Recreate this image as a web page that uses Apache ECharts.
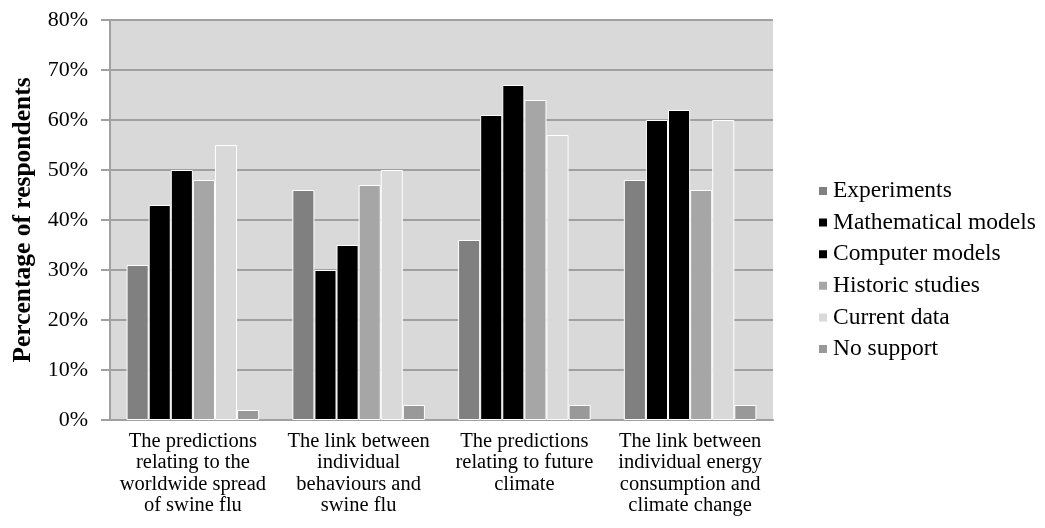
<!DOCTYPE html>
<html>
<head>
<meta charset="utf-8">
<script src="https://cdn.jsdelivr.net/npm/echarts@6/dist/echarts.min.js"></script>
<style>
  html, body { margin: 0; padding: 0; background: #ffffff; }
  #chart { width: 1045px; height: 528px; }
</style>
</head>
<body>
<div id="chart"></div>
<script>
// Survey topics shown along the x axis
const categories = [
  'The predictions\nrelating to the\nworldwide spread\nof swine flu',
  'The link between\nindividual\nbehaviours and\nswine flu',
  'The predictions\nrelating to future\nclimate',
  'The link between\nindividual energy\nconsumption and\nclimate change'
];

// Share of respondents (%) citing each kind of evidence, per topic
const experiments    = [31, 46, 36, 48];
const mathModels     = [43, 30, 61, 60];
const computerModels = [50, 35, 67, 62];
const historic       = [48, 47, 64, 46];
const currentData    = [55, 50, 57, 60];
const noSupport      = [2, 3, 3, 3];

const yTicks = [0, 10, 20, 30, 40, 50, 60, 70, 80];

const seriesDefs = [
  { name: 'Experiments', data: experiments, color: '#808080' },
  { name: 'Mathematical models', data: mathModels, color: '#000000' },
  { name: 'Computer models', data: computerModels, color: '#000000' },
  { name: 'Historic studies', data: historic, color: '#a6a6a6' },
  { name: 'Current data', data: currentData, color: '#d9d9d9' },
  { name: 'No support', data: noSupport, color: '#999999' }
];

const serif = '"Liberation Serif", "DejaVu Serif", serif';
const chart = echarts.init(document.getElementById('chart'), null, { renderer: 'canvas' });

chart.setOption({
  animation: false,
  textStyle: { fontFamily: serif },
  grid: {
    left: 110, right: 272, top: 20, bottom: 108,
    show: true, backgroundColor: '#d9d9d9', borderWidth: 0
  },
  legend: {
    orient: 'vertical',
    left: 812,
    top: 174,
    itemWidth: 10,
    itemHeight: 10,
    itemGap: 7.6,
    icon: 'rect',
    textStyle: { fontFamily: serif, fontSize: 23.5, color: '#000' },
    data: seriesDefs.map(s => s.name)
  },
  xAxis: {
    type: 'category',
    data: categories,
    axisLine: { show: true, lineStyle: { color: '#a0a0a0', width: 2 } },
    axisTick: { show: false },
    axisLabel: {
      interval: 0, margin: 11,
      fontFamily: serif, fontSize: 20.5, lineHeight: 21.3, color: '#000', align: 'center'
    }
  },
  yAxis: {
    type: 'value',
    min: yTicks[0],
    max: yTicks[yTicks.length - 1],
    interval: 10,
    name: 'Percentage of respondents',
    nameLocation: 'middle',
    nameGap: 73,
    nameTextStyle: { fontFamily: serif, fontSize: 25.5, fontWeight: 'bold', color: '#000' },
    axisLine: { show: true, lineStyle: { color: '#a0a0a0', width: 2 } },
    axisTick: { show: true, length: 9, lineStyle: { color: '#a0a0a0', width: 2 } },
    axisLabel: {
      margin: 22, fontFamily: serif, fontSize: 22, color: '#000',
      formatter: v => v + '%'
    },
    splitLine: { show: true, lineStyle: { color: '#a0a0a0', width: 2 } }
  },
  series: seriesDefs.map(s => ({
    name: s.name,
    type: 'bar',
    data: s.data,
    barGap: '0%',
    barCategoryGap: '20%',
    itemStyle: { color: s.color, borderColor: '#ffffff', borderWidth: 1 }
  }))
});
</script>
</body>
</html>
